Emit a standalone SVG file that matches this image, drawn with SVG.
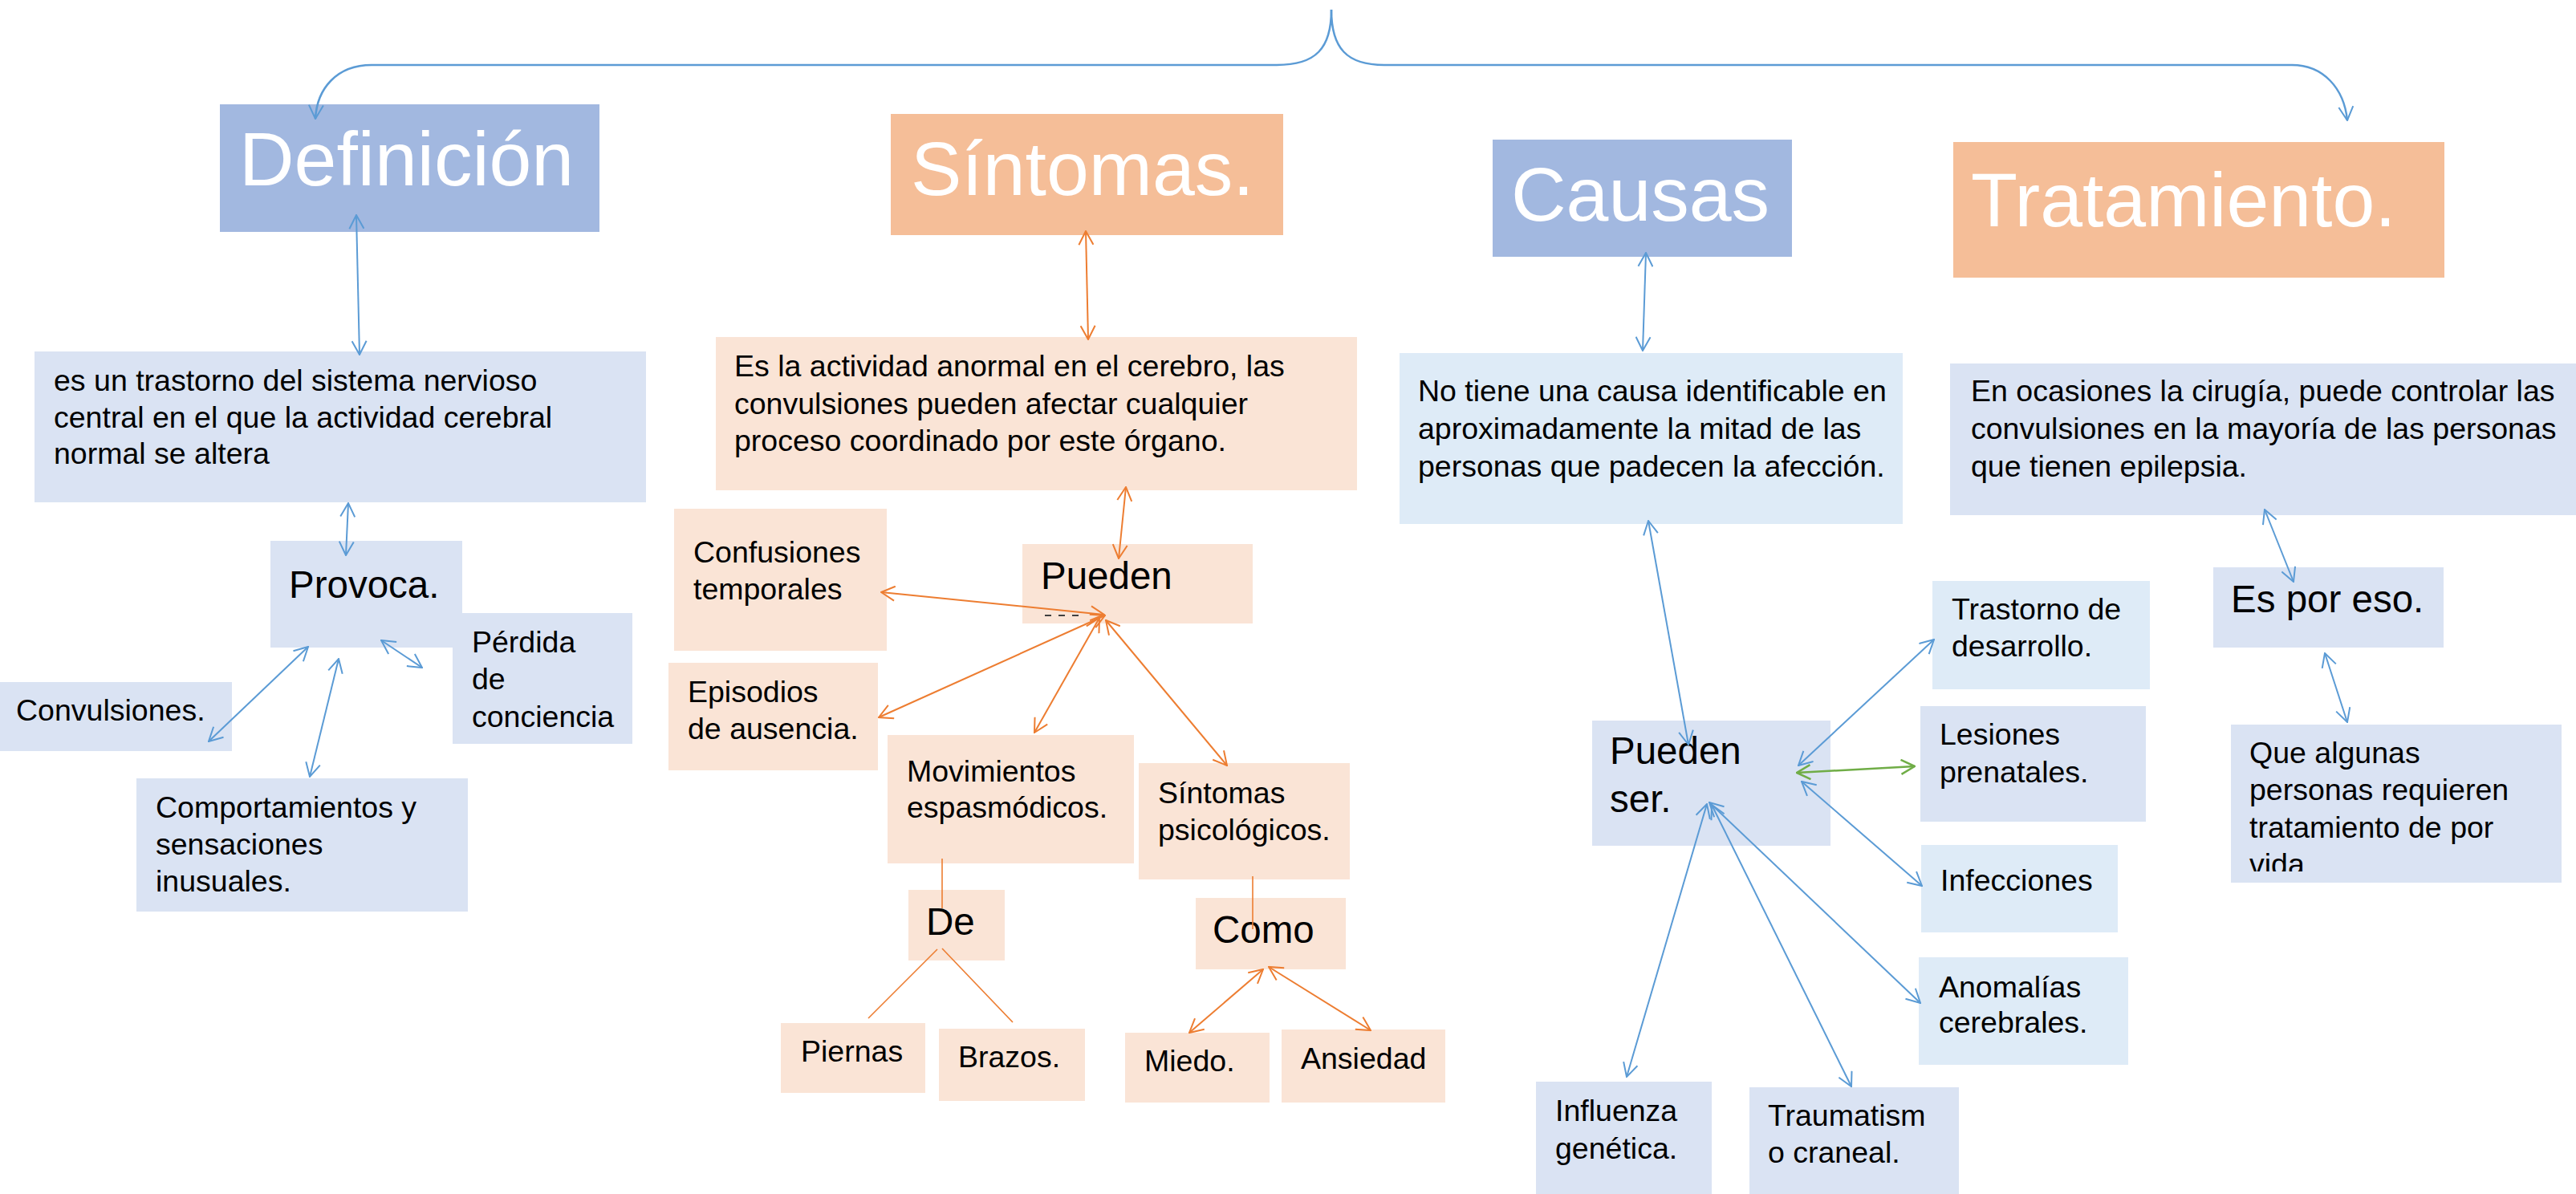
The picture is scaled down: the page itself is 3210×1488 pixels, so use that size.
<svg xmlns="http://www.w3.org/2000/svg" width="3210" height="1488" viewBox="0 0 3210 1488">
<style>
text{font-family:"Liberation Sans",Arial,sans-serif;fill:#000}
.h{font-size:95px;fill:#fff}
.m{font-size:47.5px}
.b{font-size:37.5px}
.hb{fill:#A2B8E0}
.ho{fill:#F5BE98}
.lb{fill:#DAE3F3}
.lc{fill:#DEEBF7}
.lo{fill:#FAE4D6}
.cb{stroke:#5B9BD5;stroke-width:2;fill:none;marker-start:url(#ab);marker-end:url(#ab)}
.co{stroke:#ED7D31;stroke-width:2;fill:none;marker-start:url(#ao);marker-end:url(#ao)}
.cg{stroke:#70AD47;stroke-width:2.5;fill:none;marker-start:url(#ag);marker-end:url(#ag)}
.po{stroke:#ED7D31;stroke-width:1.6;fill:none}
</style>
<defs>
<marker id="ab" viewBox="0 0 20 20" refX="19" refY="10" markerWidth="20" markerHeight="20" markerUnits="userSpaceOnUse" orient="auto-start-reverse"><path d="M2,1 L19,10 L2,19" fill="none" stroke="#5B9BD5" stroke-width="2"/></marker>
<marker id="ao" viewBox="0 0 20 20" refX="19" refY="10" markerWidth="20" markerHeight="20" markerUnits="userSpaceOnUse" orient="auto-start-reverse"><path d="M2,1 L19,10 L2,19" fill="none" stroke="#ED7D31" stroke-width="2"/></marker>
<marker id="ag" viewBox="0 0 20 20" refX="19" refY="10" markerWidth="20" markerHeight="20" markerUnits="userSpaceOnUse" orient="auto-start-reverse"><path d="M2,1 L19,10 L2,19" fill="none" stroke="#70AD47" stroke-width="2.5"/></marker>
<marker id="ae" viewBox="0 0 20 20" refX="19" refY="10" markerWidth="20" markerHeight="20" markerUnits="userSpaceOnUse" orient="auto"><path d="M2,1 L19,10 L2,19" fill="none" stroke="#5B9BD5" stroke-width="2"/></marker>
<clipPath id="clipQ"><rect x="2780" y="903" width="412" height="183"/></clipPath>
</defs>
<rect width="3210" height="1488" fill="#fff"/>

<g id="n-definicion"><rect class="hb" x="274" y="130" width="473" height="159"/><text class="h" x="298" y="231">Definición</text></g>
<g id="n-sintomas"><rect class="ho" x="1110" y="142" width="489" height="151"/><text class="h" x="1135" y="243">Síntomas.</text></g>
<g id="n-causas"><rect class="hb" x="1860" y="174" width="373" height="146"/><text class="h" x="1883" y="275">Causas</text></g>
<g id="n-tratamiento"><rect class="ho" x="2434" y="177" width="612" height="169"/><text class="h" x="2456" y="282">Tratamiento.</text></g>

<g id="n-def-desc"><rect class="lb" x="43" y="438" width="762" height="188"/><text class="b"><tspan x="67" y="487">es un trastorno del sistema nervioso</tspan><tspan x="67" y="533">central en el que la actividad cerebral</tspan><tspan x="67" y="578">normal se altera</tspan></text></g>
<g id="n-provoca"><rect class="lb" x="337" y="674" width="239" height="133"/><text class="m" x="360" y="745">Provoca.</text></g>
<g id="n-perdida"><rect class="lb" x="564" y="764" width="224" height="163"/><text class="b"><tspan x="588" y="813">Pérdida</tspan><tspan x="588" y="859">de</tspan><tspan x="588" y="906">conciencia</tspan></text></g>
<g id="n-convulsiones"><rect class="lb" x="0" y="850" width="289" height="86"/><text class="b" x="20" y="898">Convulsiones.</text></g>
<g id="n-comportamientos"><rect class="lb" x="170" y="970" width="413" height="166"/><text class="b"><tspan x="194" y="1019">Comportamientos y</tspan><tspan x="194" y="1065">sensaciones</tspan><tspan x="194" y="1111">inusuales.</tspan></text></g>

<g id="n-sin-desc"><rect class="lo" x="892" y="420" width="799" height="191"/><text class="b"><tspan x="915" y="469">Es la actividad anormal en el cerebro, las</tspan><tspan x="915" y="516">convulsiones pueden afectar cualquier</tspan><tspan x="915" y="562">proceso coordinado por este órgano.</tspan></text></g>
<g id="n-confusiones"><rect class="lo" x="840" y="634" width="265" height="177"/><text class="b"><tspan x="864" y="701">Confusiones</tspan><tspan x="864" y="747">temporales</tspan></text></g>
<g id="n-pueden"><rect class="lo" x="1274" y="678" width="287" height="99"/><text class="m" x="1297" y="734">Pueden</text></g>
<g id="n-episodios"><rect class="lo" x="833" y="826" width="261" height="134"/><text class="b"><tspan x="857" y="875">Episodios</tspan><tspan x="857" y="921">de ausencia.</tspan></text></g>
<g id="n-movimientos"><rect class="lo" x="1106" y="916" width="307" height="160"/><text class="b"><tspan x="1130" y="974">Movimientos</tspan><tspan x="1130" y="1019">espasmódicos.</tspan></text></g>
<g id="n-psicologicos"><rect class="lo" x="1419" y="951" width="263" height="145"/><text class="b"><tspan x="1443" y="1001">Síntomas</tspan><tspan x="1443" y="1047">psicológicos.</tspan></text></g>
<g id="n-de"><rect class="lo" x="1132" y="1109" width="120" height="88"/><text class="m" x="1154" y="1165">De</text></g>
<g id="n-como"><rect class="lo" x="1490" y="1119" width="187" height="89"/><text class="m" x="1511" y="1175">Como</text></g>
<g id="n-piernas"><rect class="lo" x="973" y="1275" width="180" height="87"/><text class="b" x="998" y="1323">Piernas</text></g>
<g id="n-brazos"><rect class="lo" x="1170" y="1282" width="182" height="90"/><text class="b" x="1194" y="1330">Brazos.</text></g>
<g id="n-miedo"><rect class="lo" x="1402" y="1287" width="180" height="87"/><text class="b" x="1426" y="1335">Miedo.</text></g>
<g id="n-ansiedad"><rect class="lo" x="1597" y="1283" width="204" height="91"/><text class="b" x="1621" y="1332">Ansiedad</text></g>

<g id="n-cau-desc"><rect class="lc" x="1744" y="440" width="627" height="213"/><text class="b"><tspan x="1767" y="500">No tiene una causa identificable en</tspan><tspan x="1767" y="547">aproximadamente la mitad de las</tspan><tspan x="1767" y="594">personas que padecen la afección.</tspan></text></g>
<g id="n-pueden-ser"><rect class="lb" x="1984" y="898" width="297" height="156"/><text class="m"><tspan x="2006" y="952">Pueden</tspan><tspan x="2006" y="1012">ser.</tspan></text></g>
<g id="n-trastorno"><rect class="lc" x="2408" y="724" width="271" height="135"/><text class="b"><tspan x="2432" y="772">Trastorno de</tspan><tspan x="2432" y="818">desarrollo.</tspan></text></g>
<g id="n-lesiones"><rect class="lb" x="2393" y="880" width="281" height="144"/><text class="b"><tspan x="2417" y="928">Lesiones</tspan><tspan x="2417" y="975">prenatales.</tspan></text></g>
<g id="n-infecciones"><rect class="lc" x="2394" y="1053" width="245" height="109"/><text class="b" x="2418" y="1110">Infecciones</text></g>
<g id="n-anomalias"><rect class="lc" x="2391" y="1193" width="261" height="134"/><text class="b"><tspan x="2416" y="1243">Anomalías</tspan><tspan x="2416" y="1287">cerebrales.</tspan></text></g>
<g id="n-influenza"><rect class="lb" x="1914" y="1348" width="219" height="140"/><text class="b"><tspan x="1938" y="1397">Influenza</tspan><tspan x="1938" y="1444">genética.</tspan></text></g>
<g id="n-traumatismo"><rect class="lb" x="2180" y="1355" width="261" height="133"/><text class="b"><tspan x="2203" y="1403">Traumatism</tspan><tspan x="2203" y="1449">o craneal.</tspan></text></g>

<g id="n-tra-desc"><rect class="lb" x="2430" y="453" width="780" height="189"/><text class="b"><tspan x="2456" y="500">En ocasiones la cirugía, puede controlar las</tspan><tspan x="2456" y="547">convulsiones en la mayoría de las personas</tspan><tspan x="2456" y="594">que tienen epilepsia.</tspan></text></g>
<g id="n-es-por-eso"><rect class="lb" x="2758" y="707" width="287" height="100"/><text class="m" x="2780" y="763">Es por eso.</text></g>
<g id="n-que-algunas"><rect class="lb" x="2780" y="903" width="412" height="197"/><text class="b" clip-path="url(#clipQ)"><tspan x="2803" y="951">Que algunas</tspan><tspan x="2803" y="997">personas requieren</tspan><tspan x="2803" y="1044">tratamiento de por</tspan><tspan x="2803" y="1090">vida</tspan></text></g>

<g id="connectors">
<path d="M1659,12 C1659,60 1640,81 1591,81 L463,81 C420,81 395,110 393,148" fill="none" stroke="#5B9BD5" stroke-width="2.5" marker-end="url(#ae)"/>
<path d="M1659,12 C1659,60 1678,81 1725,81 L2856,81 C2895,81 2921,110 2925,150" fill="none" stroke="#5B9BD5" stroke-width="2.5" marker-end="url(#ae)"/>
<line class="cb" x1="444" y1="268" x2="448" y2="442"/>
<line class="cb" x1="434" y1="627" x2="431" y2="692"/>
<line class="cb" x1="384" y1="806" x2="260" y2="924"/>
<line class="cb" x1="422" y1="821" x2="386" y2="968"/>
<line class="cb" x1="475" y1="798" x2="526" y2="832"/>
<line class="cb" x1="2051" y1="315" x2="2047" y2="437"/>
<line class="cb" x1="2054" y1="649" x2="2104" y2="928"/>
<line class="cb" x1="2241" y1="954" x2="2410" y2="797"/>
<line class="cg" x1="2239" y1="963" x2="2386" y2="955"/>
<line class="cb" x1="2245" y1="974" x2="2395" y2="1104"/>
<line class="cb" x1="2130" y1="1000" x2="2393" y2="1250"/>
<line class="cb" x1="2127" y1="1002" x2="2027" y2="1342"/>
<line class="cb" x1="2133" y1="1003" x2="2307" y2="1354"/>
<line class="cb" x1="2822" y1="635" x2="2858" y2="725"/>
<line class="cb" x1="2897" y1="814" x2="2925" y2="900"/>
<line class="co" x1="1353" y1="288" x2="1356" y2="423"/>
<line class="co" x1="1403" y1="607" x2="1394" y2="696"/>
<line x1="1302" y1="767" x2="1350" y2="767" stroke="#404040" stroke-width="2" stroke-dasharray="8 9"/>
<line class="co" x1="1376" y1="766" x2="1098" y2="738"/>
<line class="co" x1="1377" y1="767" x2="1095" y2="894"/>
<line class="co" x1="1370" y1="770" x2="1289" y2="913"/>
<line class="co" x1="1378" y1="773" x2="1529" y2="954"/>
<line class="co" x1="1574" y1="1208" x2="1482" y2="1287"/>
<line class="co" x1="1581" y1="1205" x2="1708" y2="1284"/>
<line class="po" x1="1174" y1="1070" x2="1174" y2="1132"/>
<line class="po" x1="1561" y1="1092" x2="1561" y2="1158"/>
<line class="po" x1="1168" y1="1183" x2="1082" y2="1269"/>
<line class="po" x1="1174" y1="1182" x2="1262" y2="1274"/>
</g>
</svg>
